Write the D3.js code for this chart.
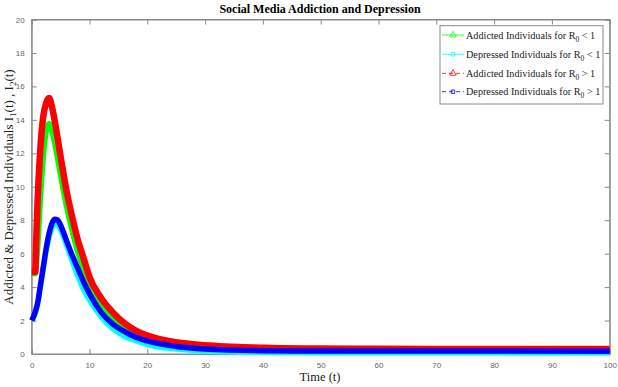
<!DOCTYPE html>
<html>
<head>
<meta charset="utf-8">
<script src="https://cdn.jsdelivr.net/npm/d3@7"></script>
<style>
  html, body { margin: 0; padding: 0; background: #fff; }
  svg { display: block; }
</style>
</head>
<body>
<svg id="chart" width="618" height="387"></svg>
<script>
// ---- data ----
const redT   = [0, 0.6, 0.8, 1.0, 1.5, 2.0, 2.5, 3.0, 3.5, 4, 5, 6, 7, 8, 9, 10, 12, 14, 16, 18, 20, 25, 30, 40, 50, 60, 80, 100];
const redY   = [4.9, 4.9, 7.0, 9.0, 12.3, 14.2, 15.0, 15.3, 14.8, 13.9, 11.8, 9.8, 8.2, 6.8, 5.7, 4.6, 3.35, 2.5, 1.85, 1.4, 1.1, 0.7, 0.52, 0.38, 0.33, 0.31, 0.3, 0.3];

const greenT = [0, 0.7, 0.85, 1.0, 1.5, 1.75, 2.0, 2.5, 3.0, 3.5, 4, 5, 6, 7, 8, 9, 10, 12, 14, 16, 18, 20, 25, 30, 40, 50, 100];
const greenY = [4.8, 4.8, 5.4, 6.0, 9.0, 10.4, 11.6, 13.2, 13.8, 13.3, 12.5, 10.6, 8.8, 7.3, 6.0, 5.0, 4.2, 3.0, 2.2, 1.6, 1.2, 0.9, 0.5, 0.33, 0.22, 0.2, 0.2];

const blueT  = [0, 0.5, 1.0, 1.5, 2.0, 2.5, 3.0, 3.5, 4.0, 4.5, 5, 6, 7, 8, 9, 10, 12, 14, 16, 18, 20, 25, 30, 40, 50, 100];
const blueY  = [2.0, 2.4, 3.0, 4.1, 5.2, 6.3, 7.2, 7.8, 8.05, 8.0, 7.7, 6.8, 5.9, 5.1, 4.3, 3.6, 2.5, 1.8, 1.35, 1.0, 0.78, 0.45, 0.3, 0.2, 0.18, 0.17];

const cyanT  = [0, 0.5, 1.0, 1.5, 2.0, 2.5, 3.0, 3.5, 4.0, 4.5, 5, 6, 7, 8, 9, 10, 12, 14, 16, 18, 20, 25, 30, 40, 50, 100];
const cyanY  = [2.0, 2.3, 2.9, 3.9, 5.0, 6.1, 6.9, 7.5, 7.75, 7.7, 7.4, 6.5, 5.5, 4.6, 3.8, 3.2, 2.2, 1.5, 1.05, 0.78, 0.55, 0.28, 0.15, 0.08, 0.06, 0.05];

const xTicks = [0, 10, 20, 30, 40, 50, 60, 70, 80, 90, 100];
const yTicks = [0, 2, 4, 6, 8, 10, 12, 14, 16, 18, 20];

const legendLabels = ["Addicted Individuals for R", "Depressed Individuals for R", "Addicted Individuals for R", "Depressed Individuals for R"];
const legendOps = ["< 1", "< 1", "> 1", "> 1"];

const titleText = "Social Media Addiction and Depression";
const xLabel = "Time (t)";

// ---- layout ----
const svg = d3.select("#chart");
const L = 31.7, R = 609.7, T = 19.5, B = 354;
const x = d3.scaleLinear().domain([0, 100]).range([L, R]);
const y = d3.scaleLinear().domain([0, 20]).range([B, T]);

const axisColor = "#8a8a8a";
const tickText = "#666";

// frame
svg.append("rect").attr("x", L).attr("y", T).attr("width", R - L).attr("height", B - T)
  .attr("fill", "none").attr("stroke", axisColor).attr("stroke-width", 1);

// axes (inward ticks)
const gx = svg.append("g").attr("transform", `translate(0,${B})`)
  .call(d3.axisBottom(x).tickValues(xTicks).tickSize(-5).tickPadding(8).tickFormat(d3.format("d")));
const gxTop = svg.append("g").attr("transform", `translate(0,${T})`)
  .call(d3.axisTop(x).tickValues(xTicks).tickSize(-5).tickFormat(""));
const gy = svg.append("g").attr("transform", `translate(${L},0)`)
  .call(d3.axisLeft(y).tickValues(yTicks).tickSize(-5).tickPadding(7).tickFormat(d3.format("d")));
const gyR = svg.append("g").attr("transform", `translate(${R},0)`)
  .call(d3.axisRight(y).tickValues(yTicks).tickSize(-5).tickFormat(""));

[gx, gxTop, gy, gyR].forEach(g => {
  g.select(".domain").attr("stroke", axisColor);
  g.selectAll(".tick line").attr("stroke", axisColor);
  g.selectAll(".tick text").attr("fill", tickText)
    .style("font-family", "'Liberation Sans', Arial, sans-serif").style("font-size", "8px");
});

// series
const series = [
  { t: greenT, v: greenY, color: "#00ff00", w: 5 },
  { t: cyanT,  v: cyanY,  color: "#00ffff", w: 5 },
  { t: redT,   v: redY,   color: "#ff0000", w: 6.5 },
  { t: blueT,  v: blueY,  color: "#0000ff", w: 5.5 }
];
const line = d3.line().x(d => x(d[0])).y(d => y(d[1])).curve(d3.curveMonotoneX);
series.forEach(s => {
  const pts = s.t.map((t, i) => [t, s.v[i]]);
  svg.append("path").datum(pts).attr("d", line)
    .attr("fill", "none").attr("stroke", s.color).attr("stroke-width", s.w)
    .attr("stroke-linejoin", "round").attr("stroke-linecap", "butt");
});

// title
svg.append("text").attr("x", 320).attr("y", 13).attr("text-anchor", "middle")
  .style("font-family", "'Liberation Serif', 'Times New Roman', serif")
  .style("font-weight", "bold").style("font-size", "12px").attr("fill", "#000")
  .text(titleText);

// x label
svg.append("text").attr("x", 320).attr("y", 381).attr("text-anchor", "middle")
  .style("font-family", "'Liberation Serif', 'Times New Roman', serif")
  .style("font-size", "12.5px").attr("fill", "#222").text(xLabel);

// y label with subscripts
const yl = svg.append("text").attr("transform", "translate(13,187) rotate(-90)")
  .attr("text-anchor", "middle")
  .style("font-family", "'Liberation Serif', 'Times New Roman', serif")
  .style("font-size", "13px").attr("fill", "#222");
yl.append("tspan").text("Addicted & Depressed Individuals I");
yl.append("tspan").attr("dy", 3).style("font-size", "9px").text("1");
yl.append("tspan").attr("dy", -3).text("(t) , I");
yl.append("tspan").attr("dy", 3).style("font-size", "9px").text("2");
yl.append("tspan").attr("dy", -3).text("(t)");

// legend
const lgX = 440, lgY = 25.7, lgW = 163, lgH = 78.3;
svg.append("rect").attr("x", lgX).attr("y", lgY).attr("width", lgW).attr("height", lgH)
  .attr("fill", "#fff").attr("stroke", axisColor).attr("stroke-width", 1);
const entryY = [35, 54.3, 73.3, 91.7];
const legendStyles = [
  { color: "#00ff00", dash: null, marker: "tri" },
  { color: "#00ffff", dash: null, marker: "sq" },
  { color: "#ff0000", dash: "4,3", marker: "tri" },
  { color: "#0000ff", dash: "4,3", marker: "sq" }
];
legendStyles.forEach((st, i) => {
  const yy = entryY[i];
  const ln = svg.append("line").attr("x1", 442).attr("x2", 464).attr("y1", yy).attr("y2", yy)
    .attr("stroke", st.color).attr("stroke-width", 0.8);
  if (st.dash) ln.attr("stroke-dasharray", st.dash);
  const sym = st.marker === "tri" ? d3.symbolTriangle : d3.symbolSquare;
  svg.append("path").attr("d", d3.symbol().type(sym).size(st.marker === "tri" ? 18 : 12)())
    .attr("transform", `translate(453,${yy})`)
    .attr("fill", "none").attr("stroke", st.color).attr("stroke-width", 0.8);
  const tx = svg.append("text").attr("x", 466).attr("y", yy + 3.5)
    .style("font-family", "'Liberation Serif', 'Times New Roman', serif")
    .style("font-size", "10.2px").attr("fill", "#222");
  tx.append("tspan").text(legendLabels[i]);
  tx.append("tspan").attr("dy", 3).style("font-size", "7.5px").text("0");
  tx.append("tspan").attr("dy", -3).text(" " + legendOps[i]);
});
</script>
</body>
</html>
